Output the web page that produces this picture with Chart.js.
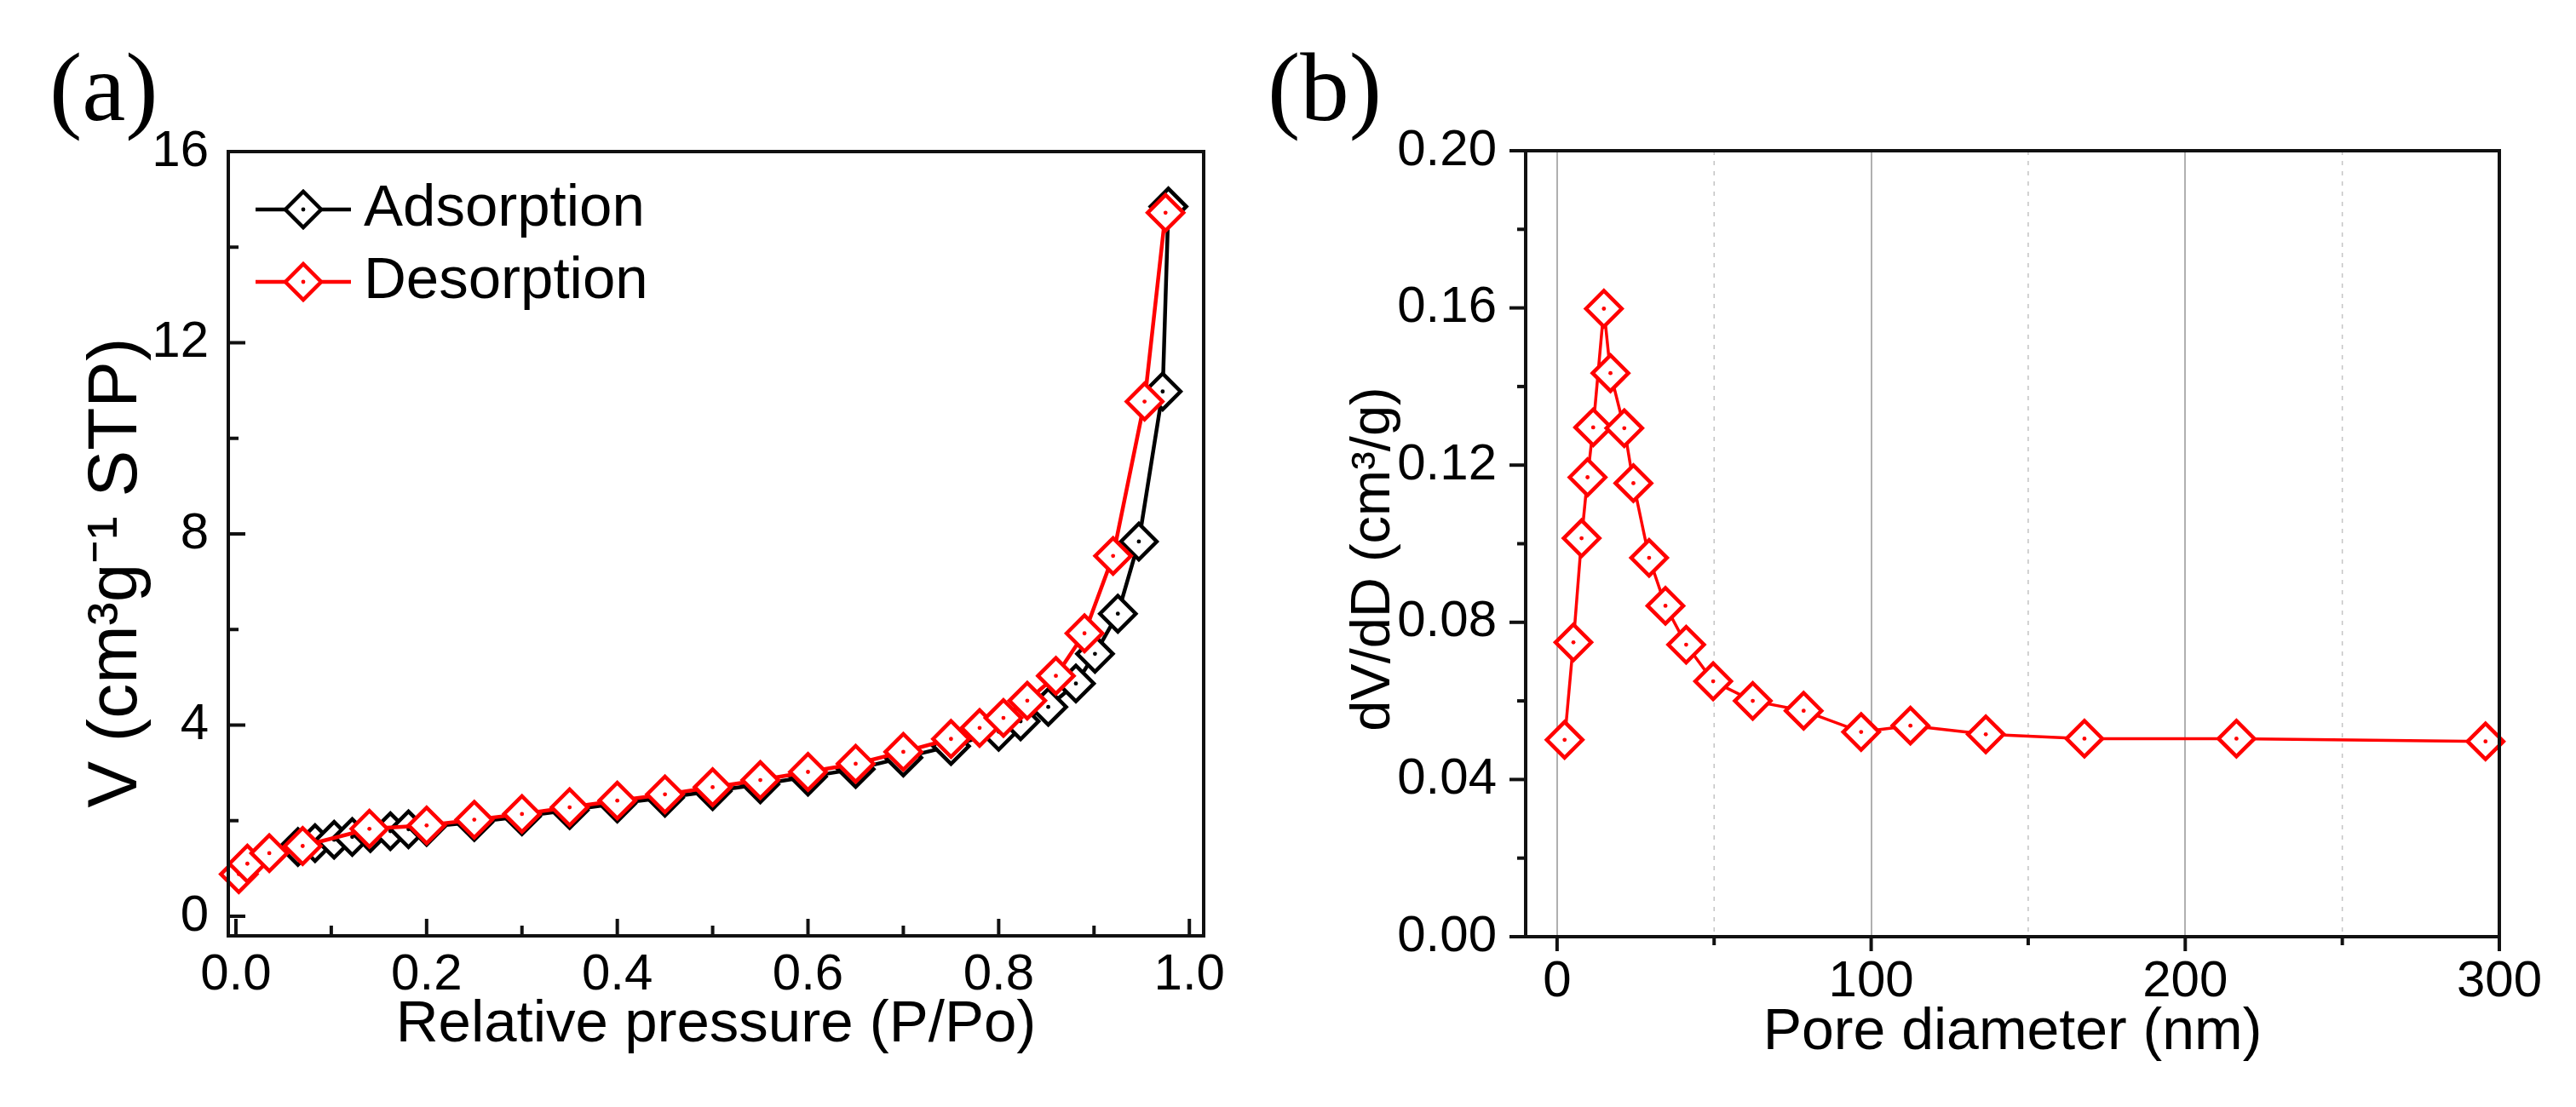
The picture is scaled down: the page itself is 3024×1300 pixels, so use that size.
<!DOCTYPE html>
<html>
<head>
<meta charset="utf-8">
<script src="https://cdn.jsdelivr.net/npm/chart.js@4.4.1/dist/chart.umd.min.js"></script>
<style>
  body { margin: 0; background: #fff; width: 3024px; height: 1300px; overflow: hidden; position: relative; }
  canvas { position: absolute; top: 0; }
  #ca { left: 0; }
  #cb { left: 1512px; }
  .tag { position: absolute; top: 45px; font-family: 'Liberation Serif', 'Times New Roman', serif; font-size: 115px; line-height: 1; color: #000; z-index: 2; }
</style>
</head>
<body>
<canvas id="ca" width="1512" height="1300"></canvas>
<canvas id="cb" width="1512" height="1300"></canvas>
<div class="tag" style="left:58px">(a)</div>
<div class="tag" style="left:1488px">(b)</div>
<script>
// (a) isotherm
const adsX = [0.065, 0.083, 0.103, 0.122, 0.141, 0.162, 0.181, 0.20, 0.25, 0.30, 0.35, 0.40, 0.45, 0.50, 0.55, 0.60, 0.65, 0.70, 0.75, 0.80, 0.823, 0.852, 0.881, 0.901, 0.925, 0.947, 0.972, 0.978];
const adsY = [1.45, 1.53, 1.60, 1.66, 1.74, 1.78, 1.82, 1.87, 1.97, 2.09, 2.22, 2.36, 2.48, 2.62, 2.76, 2.92, 3.08, 3.32, 3.56, 3.86, 4.08, 4.38, 4.87, 5.49, 6.33, 7.84, 10.98, 14.85];
const desX = [0.003, 0.012, 0.035, 0.07, 0.14, 0.20, 0.25, 0.30, 0.35, 0.40, 0.45, 0.50, 0.55, 0.60, 0.65, 0.70, 0.75, 0.78, 0.805, 0.83, 0.86, 0.89, 0.92, 0.953, 0.975];
const desY = [0.88, 1.10, 1.32, 1.47, 1.83, 1.90, 2.02, 2.14, 2.28, 2.42, 2.55, 2.70, 2.85, 3.02, 3.19, 3.44, 3.71, 3.94, 4.15, 4.51, 5.03, 5.92, 7.54, 10.77, 14.72];
const aXTicks = [0, 0.2, 0.4, 0.6, 0.8, 1.0];
const aXMinor = [0.1, 0.3, 0.5, 0.7, 0.9];
const aYTicks = [0, 4, 8, 12, 16];
const aYMinor = [2, 6, 10, 14];

// (b) pore size distribution
const poreD = [2.4, 5.2, 7.8, 9.7, 11.5, 14.9, 17.0, 21.4, 24.3, 29.3, 34.5, 41.1, 49.7, 62.3, 78.5, 96.8, 112.5, 136.5, 167.9, 216.3, 295.6];
const dVdD = [0.0501, 0.0749, 0.1014, 0.1169, 0.1296, 0.1598, 0.1434, 0.1294, 0.1154, 0.0964, 0.0842, 0.0743, 0.0650, 0.0600, 0.0575, 0.0521, 0.0537, 0.0515, 0.0504, 0.0504, 0.0497];
const bXTicks = [0, 100, 200, 300];
const bXMinor = [50, 150, 250];
const bYTicks = [0, 0.04, 0.08, 0.12, 0.16, 0.20];
const bYMinor = [0.02, 0.06, 0.10, 0.14, 0.18];

Chart.defaults.font.family = "'Liberation Sans', Arial, sans-serif";
Chart.defaults.color = '#000';

const BLACK = '#000000';
const RED = '#ff0000';

function pts(xs, ys) {
  return xs.map((x, i) => ({ x: x, y: ys[i] }));
}

function lineSet(label, xs, ys, color, order, width) {
  return {
    label: label, data: pts(xs, ys), showLine: true, order: order, clip: false,
    borderColor: color, borderWidth: width,
    pointStyle: 'rectRot', pointRadius: 21, pointBorderWidth: 4.5,
    pointBorderColor: color, pointBackgroundColor: '#fff'
  };
}

function dotSet(xs, ys, color, order) {
  return {
    data: pts(xs, ys), showLine: false, order: order, clip: false,
    pointStyle: 'circle', pointRadius: 2.4, pointBorderWidth: 0,
    pointBackgroundColor: color
  };
}

// box, minor/major ticks, dashed grid
const frame = {
  id: 'frame',
  beforeDatasetsDraw(chart, args, o) {
    if (!o.dashed) return;
    const { ctx, chartArea: a, scales: { x } } = chart;
    ctx.save();
    ctx.strokeStyle = '#c4c4c4';
    ctx.lineWidth = 1.5;
    ctx.setLineDash([5, 7]);
    o.dashed.forEach(v => {
      const px = x.getPixelForValue(v);
      ctx.beginPath(); ctx.moveTo(px, a.top); ctx.lineTo(px, a.bottom); ctx.stroke();
    });
    ctx.restore();
  },
  afterDatasetsDraw(chart, args, o) {
    const { ctx, chartArea: a, scales: { x, y } } = chart;
    const dir = o.inward ? -1 : 1;
    ctx.save();
    ctx.strokeStyle = '#111';
    ctx.lineWidth = 4;
    const xt = (vals, len) => vals.forEach(v => {
      const px = x.getPixelForValue(v);
      ctx.beginPath(); ctx.moveTo(px, a.bottom); ctx.lineTo(px, a.bottom + dir * len); ctx.stroke();
    });
    const yt = (vals, len) => vals.forEach(v => {
      const py = y.getPixelForValue(v);
      ctx.beginPath(); ctx.moveTo(a.left, py); ctx.lineTo(a.left - dir * len, py); ctx.stroke();
    });
    xt(o.xMajor, o.xLen); xt(o.xMinor, o.minorLen);
    yt(o.yMajor, o.yLen); yt(o.yMinor, o.minorLen);
    ctx.strokeRect(a.left, a.top, a.right - a.left, a.bottom - a.top);
    ctx.restore();
  }
};

// legend with line through the marker
const lineLegend = {
  id: 'lineLegend',
  afterDraw(chart, args, o) {
    if (!o.show) return;
    const { ctx, chartArea: a } = chart;
    ctx.save();
    chart.data.datasets.filter(d => d.showLine).forEach((d, i) => {
      const x0 = a.left + o.left;
      const y = a.top + o.top + i * o.rowGap;
      const cx = x0 + o.lineLen / 2;
      const r = d.pointRadius;
      ctx.strokeStyle = d.borderColor;
      ctx.lineWidth = d.borderWidth;
      ctx.beginPath(); ctx.moveTo(x0, y); ctx.lineTo(x0 + o.lineLen, y); ctx.stroke();
      ctx.beginPath();
      ctx.moveTo(cx - r, y); ctx.lineTo(cx, y - r); ctx.lineTo(cx + r, y); ctx.lineTo(cx, y + r); ctx.closePath();
      ctx.fillStyle = '#fff'; ctx.fill();
      ctx.lineWidth = d.pointBorderWidth; ctx.stroke();
      ctx.fillStyle = d.borderColor;
      ctx.beginPath(); ctx.arc(cx, y, 2.4, 0, Math.PI * 2); ctx.fill();
      ctx.fillStyle = '#000';
      ctx.font = o.fontSize + "px 'Liberation Sans', Arial, sans-serif";
      ctx.textBaseline = 'middle';
      ctx.textAlign = 'left';
      ctx.fillText(d.label, x0 + o.lineLen + o.gap, y);
    });
    ctx.restore();
  }
};

function axis(p) {
  return {
    type: 'linear', min: p.min, max: p.max,
    afterBuildTicks: s => { s.ticks = p.ticks.map(v => ({ value: v })); },
    afterFit: s => { if (p.width) s.width = p.width; if (p.height) s.height = p.height; },
    ticks: { font: { size: 60 }, padding: p.pad, autoSkip: false, maxRotation: 0, callback: p.fmt },
    grid: p.grid || { display: false, drawTicks: false },
    border: { display: false },
    title: { display: true, text: p.title, font: { size: p.titleSize }, padding: p.titlePad }
  };
}

new Chart(document.getElementById('ca'), {
  type: 'scatter',
  data: {
    datasets: [
      lineSet('Adsorption', adsX, adsY, BLACK, 3, 4.5),
      lineSet('Desorption', desX, desY, RED, 1, 4.5),
      dotSet(adsX, adsY, BLACK, 2),
      dotSet(desX, desY, RED, 0)
    ]
  },
  options: {
    responsive: false, animation: false, events: [], devicePixelRatio: 1,
    layout: { padding: { left: 0, right: 99, top: 178, bottom: 55 } },
    scales: {
      x: axis({ min: -0.008, max: 1.015, ticks: aXTicks, height: 146, pad: 10,
        fmt: v => v.toFixed(1), title: 'Relative pressure (P/Po)', titleSize: 69,
        titlePad: { top: 0, bottom: 0 } }),
      y: axis({ min: -0.41, max: 16, ticks: aYTicks, width: 268, pad: 23,
        fmt: v => String(v), title: 'V (cm\u00b3g\u207b\u00b9 STP)   ', titleSize: 82,
        titlePad: { top: 88, bottom: 0 } })
    },
    plugins: {
      legend: { display: false }, tooltip: { enabled: false },
      frame: { inward: true, xMajor: aXTicks, xMinor: aXMinor, yMajor: aYTicks, yMinor: aYMinor, xLen: 20, yLen: 20, minorLen: 12 },
      lineLegend: { show: true, left: 32, top: 68, rowGap: 85, lineLen: 112, gap: 15, fontSize: 69 }
    }
  },
  plugins: [frame, lineLegend]
});

new Chart(document.getElementById('cb'), {
  type: 'scatter',
  data: {
    datasets: [
      lineSet('dV/dD', poreD, dVdD, RED, 1, 3.5),
      dotSet(poreD, dVdD, RED, 0)
    ]
  },
  options: {
    responsive: false, animation: false, events: [], devicePixelRatio: 1,
    layout: { padding: { left: 0, right: 90, top: 177, bottom: 46 } },
    scales: {
      x: axis({ min: -10, max: 300, ticks: bXTicks, height: 154, pad: 17,
        fmt: v => String(v), title: 'Pore diameter (nm)', titleSize: 68,
        titlePad: { top: 0, bottom: 0 },
        grid: { display: true, drawTicks: false, color: '#b0b0b0', lineWidth: 2 } }),
      y: axis({ min: 0, max: 0.2, ticks: bYTicks, width: 279, pad: 34,
        fmt: v => v.toFixed(2), title: 'dV/dD (cm\u00b3/g)  ', titleSize: 65,
        titlePad: { top: 62, bottom: 0 } })
    },
    plugins: {
      legend: { display: false }, tooltip: { enabled: false },
      frame: { inward: false, dashed: bXMinor, xMajor: bXTicks, xMinor: bXMinor, yMajor: bYTicks, yMinor: bYMinor, xLen: 17, yLen: 19, minorLen: 10 },
      lineLegend: { show: false }
    }
  },
  plugins: [frame, lineLegend]
});
</script>
</body>
</html>
